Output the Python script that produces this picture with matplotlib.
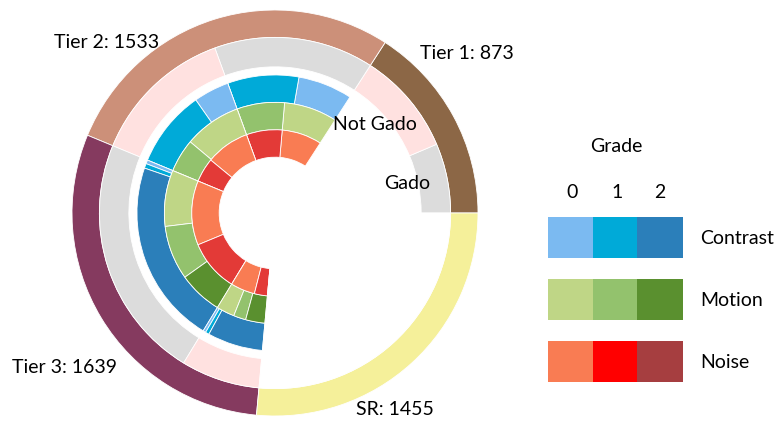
import matplotlib.pyplot as plt
from matplotlib.patches import Rectangle

plt.rcParams['font.family'] = ['Lato', 'DejaVu Sans']

# outer ring: tiers
tiers = ["Tier 1", "Tier 2", "Tier 3", "SR"]
tier_counts = [873, 1533, 1639, 1455]
tier_colors = ["#8c6746", "#cc9079", "#853a5f", "#f5f09a"]

# second ring: Gado / Not Gado per tier (SR has none)
gado_counts = [352, 521, 808, 725, 1240, 399]
gado_colors = ["#dcdcdc", "#ffe1e0"] * 3

# grade breakdown (grade 0, 1, 2) for each Gado group of Tier 2 and Tier 3
contrast = [[349, 459, 0], [229, 496, 0], [24, 30, 1186], [18, 24, 357]]
motion = [[426, 382, 0], [458, 267, 0], [451, 435, 354], [145, 99, 155]]
noise = [[426, 382, 0], [466, 259, 0], [687, 553, 0], [260, 139, 0]]

contrast_colors = ["#7bbaf1", "#00aad8", "#2b7fba"]
motion_colors = ["#bfd686", "#93c26d", "#5a902f"]
noise_colors = ["#f97c53", "#e33a37", "#a63e40"]
legend_noise = ["#f97c53", "#ff0000", "#a63e40"]
grades = ["0", "1", "2"]
kinds = ["Contrast", "Motion", "Noise"]

fig = plt.figure(figsize=(7.77, 4.21), dpi=100)
ax = fig.add_axes([(275 - 203) / 777, (208 - 203) / 421, 406 / 777, 406 / 421])

ax.pie(tier_counts, colors=tier_colors, radius=1.0, startangle=0,
       wedgeprops=dict(width=0.135, edgecolor="white", linewidth=0.6))

ax.pie(gado_counts + [tier_counts[3]], colors=gado_colors + ["none"],
       radius=0.865, startangle=0,
       wedgeprops=dict(width=0.145, edgecolor="white", linewidth=0.6))


def grade_ring(data, cols, r):
    vals = [tier_counts[0]]
    cs = ["none"]
    for grp in data:
        for v, c in zip(grp, cols):
            vals.append(v)
            cs.append(c)
    vals.append(tier_counts[3])
    cs.append("none")
    ax.pie(vals, colors=cs, radius=r, startangle=0,
           wedgeprops=dict(width=0.135, edgecolor="white", linewidth=0.6))


grade_ring(contrast, contrast_colors, 0.68)
grade_ring(motion, motion_colors, 0.545)
grade_ring(noise, noise_colors, 0.41)

# pie resets the limits, so set them afterwards
ax.set_xlim(-1, 1)
ax.set_ylim(-1, 1)
ax.set_aspect("equal")
ax.axis("off")

fs = 14
ax.text(0.946, 0.788, f"{tiers[0]}: {tier_counts[0]}", ha="center", va="center", fontsize=fs)
ax.text(-0.828, 0.842, f"{tiers[1]}: {tier_counts[1]}", ha="center", va="center", fontsize=fs)
ax.text(-1.039, -0.759, f"{tiers[2]}: {tier_counts[2]}", ha="center", va="center", fontsize=fs)
ax.text(0.591, -0.970, f"{tiers[3]}: {tier_counts[3]}", ha="center", va="center", fontsize=fs)
ax.text(0.493, 0.438, "Not Gado", ha="center", va="center", fontsize=fs)
ax.text(0.650, 0.143, "Gado", ha="center", va="center", fontsize=fs)

# legend drawn in pixel coords
lg = fig.add_axes([0, 0, 1, 1])
lg.set_xlim(0, 777)
lg.set_ylim(421, 0)
lg.axis("off")
lg.text(616, 147, "Grade", ha="center", va="center", fontsize=fs)
for x, g in zip([572, 617, 660], grades):
    lg.text(x, 192, g, ha="center", va="center", fontsize=fs)
rows = [(217, contrast_colors), (279, motion_colors), (341, legend_noise)]
col_x = [548, 593, 637]
for (y, cols), name in zip(rows, kinds):
    for x, c in zip(col_x, cols):
        lg.add_patch(Rectangle((x, y), 45.5, 41, facecolor=c, edgecolor="none"))
    lg.text(700, y + 21, name, ha="left", va="center", fontsize=fs)

fig.savefig("out.png", dpi=100)
